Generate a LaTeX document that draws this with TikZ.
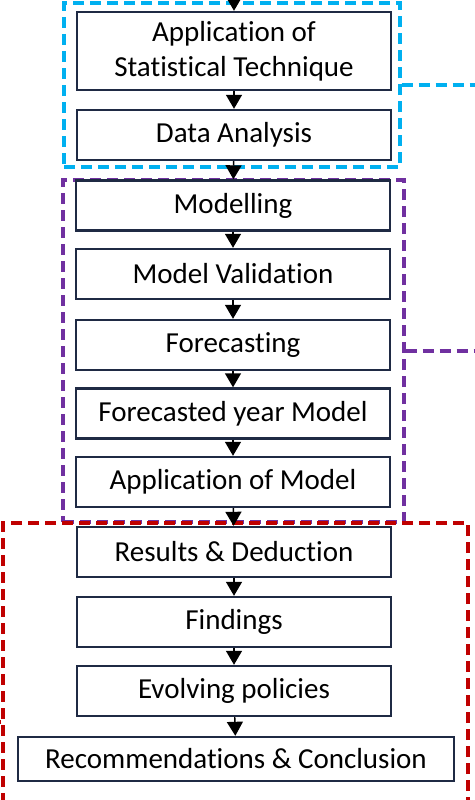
\documentclass[tikz,border=0pt]{standalone}
\usepackage{fontspec}
\setmainfont{Carlito}[Ligatures=NoCommon]
\usetikzlibrary{arrows.meta}
\definecolor{boxline}{HTML}{1F2A44}
\definecolor{grpblue}{HTML}{00B0F0}
\definecolor{grppurple}{HTML}{7030A0}
\definecolor{grpred}{HTML}{C00000}
\tikzset{
stage/.style={draw=boxline, line width=2.4pt, fill=white, minimum width=314pt, minimum height=50pt, inner sep=0pt, align=center, font=\fontsize{29}{35}\selectfont},
group/.style={draw, line width=3.4pt, dash pattern=on 11pt off 6pt, minimum width=#1, inner sep=0pt},
flow/.style={line width=1.4pt, -{Triangle[width=16pt,length=14pt]}}}

\begin{document}
\begin{tikzpicture}[x=1pt, y=-1pt]
    \useasboundingbox (0,0) rectangle (474,800);

                \node[group=336pt, draw=grpblue, minimum height=164pt] (G1) at (232,85) {};
                \node[group=341pt, draw=grppurple, minimum height=342pt] (G2) at (233.5,351) {};
                \node[group=465pt, draw=grpred, minimum height=398pt] (G3) at (235.5,722) {};
                \coordinate (G1out) at (478,85);
                \coordinate (G2out) at (478,351);
                \coordinate (G3out) at (-4,722);
                \draw[grpblue, line width=3.4pt, dash pattern=on 11pt off 6pt] (G1.east) -- (G1out);
                \draw[grppurple, line width=3.4pt, dash pattern=on 11pt off 6pt] (G2.east) -- (G2out);
                \draw[grpred, line width=3.4pt, dash pattern=on 11pt off 6pt] (G3.west) -- (G3out);

                \node[stage, minimum height=78pt] (S1) at (234,51) {Application of\\Statistical Technique};
                \node[stage] (S2) at (234,135) {Data Analysis};
                \node[stage] (S3) at (233,205.5) {Modelling};
                \node[stage] (S4) at (233,274) {Model Validation};
                \node[stage] (S5) at (233,345) {Forecasting};
                \node[stage] (S6) at (233,413.5) {Forecasted year Model};
                \node[stage] (S7) at (233,482) {Application of Model};
                \node[stage] (S8) at (234,552) {Results \& Deduction};
                \node[stage] (S9) at (234,622) {Findings};
                \node[stage] (S10) at (234,691) {Evolving policies};
                \node[stage, minimum width=436pt, minimum height=44pt] (S11) at (236,759) {Recommendations \& Conclusion};
                \coordinate (S0) at (234,-6);

                \draw[flow] (S0) -- (S1);
                \draw[flow] (S1) -- (S2);
                \draw[flow] (S2) -- (S3);
                \draw[flow] (S3) -- (S4);
                \draw[flow] (S4) -- (S5);
                \draw[flow] (S5) -- (S6);
                \draw[flow] (S6) -- (S7);
                \draw[flow] (S7) -- (S8);
                \draw[flow] (S8) -- (S9);
                \draw[flow] (S9) -- (S10);
                \draw[flow] (S10) -- (S11);

            \end{tikzpicture}
\end{document}
